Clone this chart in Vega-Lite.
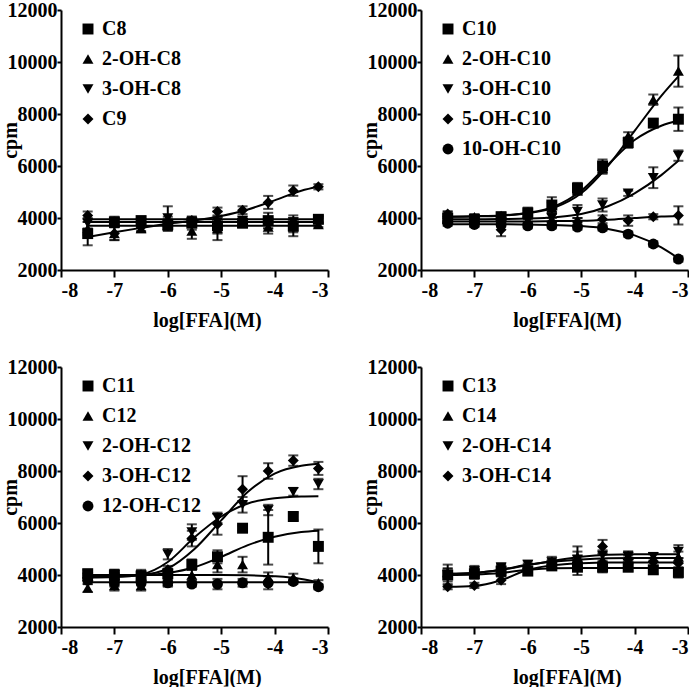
{
  "$schema": "https://vega.github.io/schema/vega-lite/v6.json",
  "padding": {"left": 0, "top": 0, "right": 0, "bottom": 0},
  "columns": 2,
  "spacing": {"row": 97, "column": 93},
  "bounds": "flush",
  "datasets": {
    "fit": [
      {"p":1,"s":"C8","x":-7.5,"y":3950},{"p":1,"s":"C8","x":-3.18,"y":3950},
      {"p":1,"s":"2-OH-C8","x":-7.5,"y":3850},{"p":1,"s":"2-OH-C8","x":-3.18,"y":3850},
      {"p":1,"s":"3-OH-C8","x":-7.5,"y":3700},{"p":1,"s":"3-OH-C8","x":-3.18,"y":3700},
      {"p":1,"s":"C9","x":-7.5,"y":3270},{"p":1,"s":"C9","x":-7,"y":3450},{"p":1,"s":"C9","x":-6.5,"y":3620},{"p":1,"s":"C9","x":-6,"y":3780},{"p":1,"s":"C9","x":-5.5,"y":3900},{"p":1,"s":"C9","x":-5,"y":4080},{"p":1,"s":"C9","x":-4.5,"y":4330},{"p":1,"s":"C9","x":-4,"y":4680},{"p":1,"s":"C9","x":-3.5,"y":5050},{"p":1,"s":"C9","x":-3.18,"y":5200},

      {"p":2,"s":"C10","x":-7.5,"y":4050},{"p":2,"s":"C10","x":-7,"y":4070},{"p":2,"s":"C10","x":-6.5,"y":4100},{"p":2,"s":"C10","x":-6,"y":4200},{"p":2,"s":"C10","x":-5.5,"y":4450},{"p":2,"s":"C10","x":-5,"y":5050},{"p":2,"s":"C10","x":-4.5,"y":6050},{"p":2,"s":"C10","x":-4,"y":7000},{"p":2,"s":"C10","x":-3.5,"y":7550},{"p":2,"s":"C10","x":-3.18,"y":7750},
      {"p":2,"s":"2-OH-C10","x":-7.5,"y":4050},{"p":2,"s":"2-OH-C10","x":-7,"y":4060},{"p":2,"s":"2-OH-C10","x":-6.5,"y":4090},{"p":2,"s":"2-OH-C10","x":-6,"y":4180},{"p":2,"s":"2-OH-C10","x":-5.5,"y":4400},{"p":2,"s":"2-OH-C10","x":-5,"y":4950},{"p":2,"s":"2-OH-C10","x":-4.5,"y":6000},{"p":2,"s":"2-OH-C10","x":-4,"y":7350},{"p":2,"s":"2-OH-C10","x":-3.5,"y":8700},{"p":2,"s":"2-OH-C10","x":-3.18,"y":9450},
      {"p":2,"s":"3-OH-C10","x":-7.5,"y":3950},{"p":2,"s":"3-OH-C10","x":-7,"y":3950},{"p":2,"s":"3-OH-C10","x":-6.5,"y":3960},{"p":2,"s":"3-OH-C10","x":-6,"y":3980},{"p":2,"s":"3-OH-C10","x":-5.5,"y":4030},{"p":2,"s":"3-OH-C10","x":-5,"y":4150},{"p":2,"s":"3-OH-C10","x":-4.5,"y":4450},{"p":2,"s":"3-OH-C10","x":-4,"y":4950},{"p":2,"s":"3-OH-C10","x":-3.5,"y":5650},{"p":2,"s":"3-OH-C10","x":-3.18,"y":6200},
      {"p":2,"s":"5-OH-C10","x":-7.5,"y":3870},{"p":2,"s":"5-OH-C10","x":-6,"y":3870},{"p":2,"s":"5-OH-C10","x":-5.5,"y":3880},{"p":2,"s":"5-OH-C10","x":-5,"y":3890},{"p":2,"s":"5-OH-C10","x":-4.5,"y":3930},{"p":2,"s":"5-OH-C10","x":-4,"y":4000},{"p":2,"s":"5-OH-C10","x":-3.5,"y":4060},{"p":2,"s":"5-OH-C10","x":-3.18,"y":4080},
      {"p":2,"s":"10-OH-C10","x":-7.5,"y":3760},{"p":2,"s":"10-OH-C10","x":-6.5,"y":3760},{"p":2,"s":"10-OH-C10","x":-6,"y":3750},{"p":2,"s":"10-OH-C10","x":-5.5,"y":3730},{"p":2,"s":"10-OH-C10","x":-5,"y":3690},{"p":2,"s":"10-OH-C10","x":-4.5,"y":3580},{"p":2,"s":"10-OH-C10","x":-4,"y":3330},{"p":2,"s":"10-OH-C10","x":-3.5,"y":2870},{"p":2,"s":"10-OH-C10","x":-3.18,"y":2450},

      {"p":3,"s":"C11","x":-7.5,"y":3950},{"p":3,"s":"C11","x":-7,"y":3960},{"p":3,"s":"C11","x":-6.5,"y":3990},{"p":3,"s":"C11","x":-6,"y":4080},{"p":3,"s":"C11","x":-5.5,"y":4300},{"p":3,"s":"C11","x":-5,"y":4700},{"p":3,"s":"C11","x":-4.5,"y":5150},{"p":3,"s":"C11","x":-4,"y":5470},{"p":3,"s":"C11","x":-3.5,"y":5650},{"p":3,"s":"C11","x":-3.18,"y":5700},
      {"p":3,"s":"C12","x":-7.5,"y":4000},{"p":3,"s":"C12","x":-5,"y":4000},{"p":3,"s":"C12","x":-4.5,"y":3990},{"p":3,"s":"C12","x":-4,"y":3950},{"p":3,"s":"C12","x":-3.5,"y":3850},{"p":3,"s":"C12","x":-3.18,"y":3720},
      {"p":3,"s":"2-OH-C12","x":-7.5,"y":3900},{"p":3,"s":"2-OH-C12","x":-7,"y":3920},{"p":3,"s":"2-OH-C12","x":-6.5,"y":4020},{"p":3,"s":"2-OH-C12","x":-6,"y":4500},{"p":3,"s":"2-OH-C12","x":-5.5,"y":5450},{"p":3,"s":"2-OH-C12","x":-5,"y":6250},{"p":3,"s":"2-OH-C12","x":-4.5,"y":6750},{"p":3,"s":"2-OH-C12","x":-4,"y":6950},{"p":3,"s":"2-OH-C12","x":-3.5,"y":7020},{"p":3,"s":"2-OH-C12","x":-3.18,"y":7030},
      {"p":3,"s":"3-OH-C12","x":-7.5,"y":3950},{"p":3,"s":"3-OH-C12","x":-7,"y":3960},{"p":3,"s":"3-OH-C12","x":-6.5,"y":4000},{"p":3,"s":"3-OH-C12","x":-6,"y":4250},{"p":3,"s":"3-OH-C12","x":-5.5,"y":5000},{"p":3,"s":"3-OH-C12","x":-5,"y":6100},{"p":3,"s":"3-OH-C12","x":-4.5,"y":7200},{"p":3,"s":"3-OH-C12","x":-4,"y":7900},{"p":3,"s":"3-OH-C12","x":-3.5,"y":8200},{"p":3,"s":"3-OH-C12","x":-3.18,"y":8280},
      {"p":3,"s":"12-OH-C12","x":-7.5,"y":3720},{"p":3,"s":"12-OH-C12","x":-3.18,"y":3720},

      {"p":4,"s":"C13","x":-7.5,"y":4000},{"p":4,"s":"C13","x":-7,"y":4020},{"p":4,"s":"C13","x":-6.5,"y":4080},{"p":4,"s":"C13","x":-6,"y":4200},{"p":4,"s":"C13","x":-5.5,"y":4260},{"p":4,"s":"C13","x":-5,"y":4270},{"p":4,"s":"C13","x":-3.18,"y":4270},
      {"p":4,"s":"C14","x":-7.5,"y":4050},{"p":4,"s":"C14","x":-7,"y":4080},{"p":4,"s":"C14","x":-6.5,"y":4200},{"p":4,"s":"C14","x":-6,"y":4400},{"p":4,"s":"C14","x":-5.5,"y":4520},{"p":4,"s":"C14","x":-5,"y":4600},{"p":4,"s":"C14","x":-4.5,"y":4640},{"p":4,"s":"C14","x":-4,"y":4650},{"p":4,"s":"C14","x":-3.18,"y":4650},
      {"p":4,"s":"2-OH-C14","x":-7.5,"y":4050},{"p":4,"s":"2-OH-C14","x":-7,"y":4080},{"p":4,"s":"2-OH-C14","x":-6.5,"y":4200},{"p":4,"s":"2-OH-C14","x":-6,"y":4380},{"p":4,"s":"2-OH-C14","x":-5.5,"y":4550},{"p":4,"s":"2-OH-C14","x":-5,"y":4700},{"p":4,"s":"2-OH-C14","x":-4.5,"y":4780},{"p":4,"s":"2-OH-C14","x":-4,"y":4800},{"p":4,"s":"2-OH-C14","x":-3.18,"y":4800},
      {"p":4,"s":"3-OH-C14","x":-7.5,"y":3550},{"p":4,"s":"3-OH-C14","x":-7,"y":3580},{"p":4,"s":"3-OH-C14","x":-6.5,"y":3800},{"p":4,"s":"3-OH-C14","x":-6,"y":4200},{"p":4,"s":"3-OH-C14","x":-5.5,"y":4380},{"p":4,"s":"3-OH-C14","x":-5,"y":4450},{"p":4,"s":"3-OH-C14","x":-4.5,"y":4480},{"p":4,"s":"3-OH-C14","x":-3.18,"y":4480}
    ],
    "pts": [
      {"p":1,"s":"C8","x":-7.5,"y":3400,"e":450},{"p":1,"s":"C8","x":-7,"y":3850,"e":200},{"p":1,"s":"C8","x":-6.5,"y":3900,"e":150},{"p":1,"s":"C8","x":-6,"y":3750,"e":200},{"p":1,"s":"C8","x":-5.55,"y":3800,"e":250},{"p":1,"s":"C8","x":-5.07,"y":3700,"e":550},{"p":1,"s":"C8","x":-4.6,"y":3800,"e":150},{"p":1,"s":"C8","x":-4.12,"y":3900,"e":300},{"p":1,"s":"C8","x":-3.65,"y":3700,"e":400},{"p":1,"s":"C8","x":-3.18,"y":3950,"e":150},
      {"p":1,"s":"2-OH-C8","x":-7.5,"y":3600,"e":250},{"p":1,"s":"2-OH-C8","x":-7,"y":3400,"e":250},{"p":1,"s":"2-OH-C8","x":-6.5,"y":3600,"e":150},{"p":1,"s":"2-OH-C8","x":-6,"y":3700,"e":200},{"p":1,"s":"2-OH-C8","x":-5.55,"y":3500,"e":300},{"p":1,"s":"2-OH-C8","x":-5.07,"y":3600,"e":200},{"p":1,"s":"2-OH-C8","x":-4.6,"y":3800,"e":100},{"p":1,"s":"2-OH-C8","x":-4.12,"y":3650,"e":250},{"p":1,"s":"2-OH-C8","x":-3.65,"y":3650,"e":200},{"p":1,"s":"2-OH-C8","x":-3.18,"y":3750,"e":100},
      {"p":1,"s":"3-OH-C8","x":-7.5,"y":3800,"e":200},{"p":1,"s":"3-OH-C8","x":-7,"y":3800,"e":150},{"p":1,"s":"3-OH-C8","x":-6.5,"y":3800,"e":150},{"p":1,"s":"3-OH-C8","x":-6,"y":4000,"e":450},{"p":1,"s":"3-OH-C8","x":-5.55,"y":3850,"e":150},{"p":1,"s":"3-OH-C8","x":-5.07,"y":3850,"e":200},{"p":1,"s":"3-OH-C8","x":-4.6,"y":3900,"e":150},{"p":1,"s":"3-OH-C8","x":-4.12,"y":3800,"e":200},{"p":1,"s":"3-OH-C8","x":-3.65,"y":3850,"e":150},{"p":1,"s":"3-OH-C8","x":-3.18,"y":3900,"e":100},
      {"p":1,"s":"C9","x":-7.5,"y":4100,"e":150},{"p":1,"s":"C9","x":-7,"y":3400,"e":250},{"p":1,"s":"C9","x":-6.5,"y":3650,"e":150},{"p":1,"s":"C9","x":-6,"y":3850,"e":200},{"p":1,"s":"C9","x":-5.55,"y":3900,"e":150},{"p":1,"s":"C9","x":-5.07,"y":4250,"e":150},{"p":1,"s":"C9","x":-4.6,"y":4300,"e":150},{"p":1,"s":"C9","x":-4.12,"y":4600,"e":250},{"p":1,"s":"C9","x":-3.65,"y":5050,"e":200},{"p":1,"s":"C9","x":-3.18,"y":5200,"e":100},

      {"p":2,"s":"C10","x":-7.5,"y":4000,"e":100},{"p":2,"s":"C10","x":-7,"y":3950,"e":150},{"p":2,"s":"C10","x":-6.5,"y":4050,"e":150},{"p":2,"s":"C10","x":-6,"y":4200,"e":200},{"p":2,"s":"C10","x":-5.55,"y":4500,"e":300},{"p":2,"s":"C10","x":-5.07,"y":5150,"e":200},{"p":2,"s":"C10","x":-4.6,"y":6000,"e":250},{"p":2,"s":"C10","x":-4.12,"y":6900,"e":200},{"p":2,"s":"C10","x":-3.65,"y":7650,"e":150},{"p":2,"s":"C10","x":-3.18,"y":7800,"e":450},
      {"p":2,"s":"2-OH-C10","x":-7.5,"y":4150,"e":100},{"p":2,"s":"2-OH-C10","x":-7,"y":4050,"e":100},{"p":2,"s":"2-OH-C10","x":-6.5,"y":4100,"e":100},{"p":2,"s":"2-OH-C10","x":-6,"y":4150,"e":150},{"p":2,"s":"2-OH-C10","x":-5.55,"y":4400,"e":200},{"p":2,"s":"2-OH-C10","x":-5.07,"y":5050,"e":150},{"p":2,"s":"2-OH-C10","x":-4.6,"y":5900,"e":200},{"p":2,"s":"2-OH-C10","x":-4.12,"y":7150,"e":150},{"p":2,"s":"2-OH-C10","x":-3.65,"y":8550,"e":200},{"p":2,"s":"2-OH-C10","x":-3.18,"y":9650,"e":600},
      {"p":2,"s":"3-OH-C10","x":-7.5,"y":3900,"e":100},{"p":2,"s":"3-OH-C10","x":-7,"y":3900,"e":100},{"p":2,"s":"3-OH-C10","x":-6.5,"y":3850,"e":150},{"p":2,"s":"3-OH-C10","x":-6,"y":3900,"e":100},{"p":2,"s":"3-OH-C10","x":-5.55,"y":4000,"e":150},{"p":2,"s":"3-OH-C10","x":-5.07,"y":4250,"e":250},{"p":2,"s":"3-OH-C10","x":-4.6,"y":4500,"e":250},{"p":2,"s":"3-OH-C10","x":-4.12,"y":4950,"e":100},{"p":2,"s":"3-OH-C10","x":-3.65,"y":5550,"e":400},{"p":2,"s":"3-OH-C10","x":-3.18,"y":6400,"e":200},
      {"p":2,"s":"5-OH-C10","x":-7.5,"y":4150,"e":100},{"p":2,"s":"5-OH-C10","x":-7,"y":3850,"e":150},{"p":2,"s":"5-OH-C10","x":-6.5,"y":3550,"e":250},{"p":2,"s":"5-OH-C10","x":-6,"y":3800,"e":150},{"p":2,"s":"5-OH-C10","x":-5.55,"y":3850,"e":150},{"p":2,"s":"5-OH-C10","x":-5.07,"y":3850,"e":150},{"p":2,"s":"5-OH-C10","x":-4.6,"y":3950,"e":150},{"p":2,"s":"5-OH-C10","x":-4.12,"y":3900,"e":200},{"p":2,"s":"5-OH-C10","x":-3.65,"y":4050,"e":100},{"p":2,"s":"5-OH-C10","x":-3.18,"y":4100,"e":350},
      {"p":2,"s":"10-OH-C10","x":-7.5,"y":3800,"e":100},{"p":2,"s":"10-OH-C10","x":-7,"y":3750,"e":100},{"p":2,"s":"10-OH-C10","x":-6.5,"y":3750,"e":100},{"p":2,"s":"10-OH-C10","x":-6,"y":3700,"e":100},{"p":2,"s":"10-OH-C10","x":-5.55,"y":3700,"e":100},{"p":2,"s":"10-OH-C10","x":-5.07,"y":3650,"e":100},{"p":2,"s":"10-OH-C10","x":-4.6,"y":3620,"e":100},{"p":2,"s":"10-OH-C10","x":-4.12,"y":3380,"e":100},{"p":2,"s":"10-OH-C10","x":-3.65,"y":3000,"e":100},{"p":2,"s":"10-OH-C10","x":-3.18,"y":2420,"e":100},

      {"p":3,"s":"C11","x":-7.5,"y":4050,"e":150},{"p":3,"s":"C11","x":-7,"y":4000,"e":200},{"p":3,"s":"C11","x":-6.5,"y":3950,"e":200},{"p":3,"s":"C11","x":-6,"y":4050,"e":200},{"p":3,"s":"C11","x":-5.55,"y":4400,"e":200},{"p":3,"s":"C11","x":-5.07,"y":4700,"e":250},{"p":3,"s":"C11","x":-4.6,"y":5800,"e":100},{"p":3,"s":"C11","x":-4.12,"y":5450,"e":1050},{"p":3,"s":"C11","x":-3.65,"y":6250,"e":150},{"p":3,"s":"C11","x":-3.18,"y":5100,"e":650},
      {"p":3,"s":"C12","x":-7.5,"y":3500,"e":150},{"p":3,"s":"C12","x":-7,"y":3600,"e":200},{"p":3,"s":"C12","x":-6.5,"y":3600,"e":200},{"p":3,"s":"C12","x":-6,"y":3750,"e":200},{"p":3,"s":"C12","x":-5.55,"y":4000,"e":200},{"p":3,"s":"C12","x":-5.07,"y":4400,"e":300},{"p":3,"s":"C12","x":-4.6,"y":4400,"e":300},{"p":3,"s":"C12","x":-4.12,"y":3900,"e":200},{"p":3,"s":"C12","x":-3.65,"y":3900,"e":150},{"p":3,"s":"C12","x":-3.18,"y":3700,"e":100},
      {"p":3,"s":"2-OH-C12","x":-7.5,"y":3900,"e":150},{"p":3,"s":"2-OH-C12","x":-7,"y":3900,"e":300},{"p":3,"s":"2-OH-C12","x":-6.5,"y":4000,"e":200},{"p":3,"s":"2-OH-C12","x":-6,"y":4800,"e":200},{"p":3,"s":"2-OH-C12","x":-5.55,"y":5650,"e":300},{"p":3,"s":"2-OH-C12","x":-5.07,"y":6200,"e":200},{"p":3,"s":"2-OH-C12","x":-4.6,"y":6700,"e":300},{"p":3,"s":"2-OH-C12","x":-4.12,"y":6500,"e":200},{"p":3,"s":"2-OH-C12","x":-3.65,"y":7200,"e":150},{"p":3,"s":"2-OH-C12","x":-3.18,"y":7500,"e":200},
      {"p":3,"s":"3-OH-C12","x":-7.5,"y":3900,"e":100},{"p":3,"s":"3-OH-C12","x":-7,"y":3800,"e":200},{"p":3,"s":"3-OH-C12","x":-6.5,"y":3800,"e":150},{"p":3,"s":"3-OH-C12","x":-6,"y":4200,"e":150},{"p":3,"s":"3-OH-C12","x":-5.55,"y":5400,"e":300},{"p":3,"s":"3-OH-C12","x":-5.07,"y":5950,"e":400},{"p":3,"s":"3-OH-C12","x":-4.6,"y":7300,"e":500},{"p":3,"s":"3-OH-C12","x":-4.12,"y":8000,"e":300},{"p":3,"s":"3-OH-C12","x":-3.65,"y":8400,"e":200},{"p":3,"s":"3-OH-C12","x":-3.18,"y":8100,"e":250},
      {"p":3,"s":"12-OH-C12","x":-7.5,"y":3800,"e":150},{"p":3,"s":"12-OH-C12","x":-7,"y":3700,"e":150},{"p":3,"s":"12-OH-C12","x":-6.5,"y":3700,"e":100},{"p":3,"s":"12-OH-C12","x":-6,"y":3700,"e":100},{"p":3,"s":"12-OH-C12","x":-5.55,"y":3650,"e":100},{"p":3,"s":"12-OH-C12","x":-5.07,"y":3650,"e":200},{"p":3,"s":"12-OH-C12","x":-4.6,"y":3700,"e":150},{"p":3,"s":"12-OH-C12","x":-4.12,"y":3700,"e":250},{"p":3,"s":"12-OH-C12","x":-3.65,"y":3750,"e":100},{"p":3,"s":"12-OH-C12","x":-3.18,"y":3550,"e":100},

      {"p":4,"s":"C13","x":-7.5,"y":4000,"e":250},{"p":4,"s":"C13","x":-7,"y":4050,"e":200},{"p":4,"s":"C13","x":-6.5,"y":4150,"e":200},{"p":4,"s":"C13","x":-6,"y":4150,"e":150},{"p":4,"s":"C13","x":-5.55,"y":4350,"e":150},{"p":4,"s":"C13","x":-5.07,"y":4300,"e":300},{"p":4,"s":"C13","x":-4.6,"y":4300,"e":200},{"p":4,"s":"C13","x":-4.12,"y":4300,"e":150},{"p":4,"s":"C13","x":-3.65,"y":4200,"e":150},{"p":4,"s":"C13","x":-3.18,"y":4100,"e":200},
      {"p":4,"s":"C14","x":-7.5,"y":4100,"e":150},{"p":4,"s":"C14","x":-7,"y":4150,"e":150},{"p":4,"s":"C14","x":-6.5,"y":4250,"e":150},{"p":4,"s":"C14","x":-6,"y":4350,"e":100},{"p":4,"s":"C14","x":-5.55,"y":4450,"e":150},{"p":4,"s":"C14","x":-5.07,"y":4700,"e":400},{"p":4,"s":"C14","x":-4.6,"y":4600,"e":200},{"p":4,"s":"C14","x":-4.12,"y":4750,"e":150},{"p":4,"s":"C14","x":-3.65,"y":4650,"e":150},{"p":4,"s":"C14","x":-3.18,"y":4700,"e":200},
      {"p":4,"s":"2-OH-C14","x":-7.5,"y":4000,"e":400},{"p":4,"s":"2-OH-C14","x":-7,"y":4150,"e":200},{"p":4,"s":"2-OH-C14","x":-6.5,"y":4300,"e":150},{"p":4,"s":"2-OH-C14","x":-6,"y":4400,"e":150},{"p":4,"s":"2-OH-C14","x":-5.55,"y":4500,"e":200},{"p":4,"s":"2-OH-C14","x":-5.07,"y":4600,"e":300},{"p":4,"s":"2-OH-C14","x":-4.6,"y":4750,"e":200},{"p":4,"s":"2-OH-C14","x":-4.12,"y":4700,"e":200},{"p":4,"s":"2-OH-C14","x":-3.65,"y":4700,"e":150},{"p":4,"s":"2-OH-C14","x":-3.18,"y":4900,"e":250},
      {"p":4,"s":"3-OH-C14","x":-7.5,"y":3550,"e":100},{"p":4,"s":"3-OH-C14","x":-7,"y":3600,"e":100},{"p":4,"s":"3-OH-C14","x":-6.5,"y":3800,"e":150},{"p":4,"s":"3-OH-C14","x":-6,"y":4250,"e":150},{"p":4,"s":"3-OH-C14","x":-5.55,"y":4400,"e":150},{"p":4,"s":"3-OH-C14","x":-5.07,"y":4500,"e":250},{"p":4,"s":"3-OH-C14","x":-4.6,"y":5100,"e":250},{"p":4,"s":"3-OH-C14","x":-4.12,"y":4600,"e":150},{"p":4,"s":"3-OH-C14","x":-3.65,"y":4500,"e":150},{"p":4,"s":"3-OH-C14","x":-3.18,"y":4450,"e":200}
    ]
  },
  "resolve": {"scale": {"shape": "independent"}, "legend": {"shape": "independent"}},
  "concat": [
    {
      "width": 267, "height": 260,
      "layer": [
        {"data": {"name": "fit"}, "transform": [{"filter": "datum.p == 1"}],
         "mark": {"type": "line", "color": "black", "strokeWidth": 2, "interpolate": "monotone"},
         "encoding": {"x": {"field": "x", "type": "quantitative", "title": "log[FFA](M)", "scale": {"domain": [-8, -3], "nice": false, "zero": false}},
                      "y": {"field": "y", "type": "quantitative", "title": "cpm", "scale": {"domain": [2000, 12000], "nice": false, "zero": false}},
                      "detail": {"field": "s"}}},
        {"data": {"name": "pts"}, "transform": [{"filter": "datum.p == 1"}],
         "mark": {"type": "errorbar", "ticks": true, "color": "black", "thickness": 2, "size": 10},
         "encoding": {"x": {"field": "x", "type": "quantitative", "title": "log[FFA](M)"}, "y": {"field": "y", "type": "quantitative", "title": "cpm"}, "yError": {"field": "e"}}},
        {"data": {"name": "pts"}, "transform": [{"filter": "datum.p == 1"}],
         "mark": {"type": "point", "filled": true, "color": "black", "opacity": 1, "size": 120},
         "encoding": {"x": {"field": "x", "type": "quantitative", "title": "log[FFA](M)"}, "y": {"field": "y", "type": "quantitative", "title": "cpm"},
                      "shape": {"field": "s", "type": "nominal", "scale": {"domain": ["C8", "2-OH-C8", "3-OH-C8", "C9"], "range": ["square", "triangle-up", "triangle-down", "diamond"]}}}}
      ]
    },
    {
      "width": 267, "height": 260,
      "layer": [
        {"data": {"name": "fit"}, "transform": [{"filter": "datum.p == 2"}],
         "mark": {"type": "line", "color": "black", "strokeWidth": 2, "interpolate": "monotone"},
         "encoding": {"x": {"field": "x", "type": "quantitative", "title": "log[FFA](M)", "scale": {"domain": [-8, -3], "nice": false, "zero": false}},
                      "y": {"field": "y", "type": "quantitative", "title": "cpm", "scale": {"domain": [2000, 12000], "nice": false, "zero": false}},
                      "detail": {"field": "s"}}},
        {"data": {"name": "pts"}, "transform": [{"filter": "datum.p == 2"}],
         "mark": {"type": "errorbar", "ticks": true, "color": "black", "thickness": 2, "size": 10},
         "encoding": {"x": {"field": "x", "type": "quantitative", "title": "log[FFA](M)"}, "y": {"field": "y", "type": "quantitative", "title": "cpm"}, "yError": {"field": "e"}}},
        {"data": {"name": "pts"}, "transform": [{"filter": "datum.p == 2"}],
         "mark": {"type": "point", "filled": true, "color": "black", "opacity": 1, "size": 120},
         "encoding": {"x": {"field": "x", "type": "quantitative", "title": "log[FFA](M)"}, "y": {"field": "y", "type": "quantitative", "title": "cpm"},
                      "shape": {"field": "s", "type": "nominal", "scale": {"domain": ["C10", "2-OH-C10", "3-OH-C10", "5-OH-C10", "10-OH-C10"], "range": ["square", "triangle-up", "triangle-down", "diamond", "circle"]}}}}
      ]
    },
    {
      "width": 267, "height": 260,
      "layer": [
        {"data": {"name": "fit"}, "transform": [{"filter": "datum.p == 3"}],
         "mark": {"type": "line", "color": "black", "strokeWidth": 2, "interpolate": "monotone"},
         "encoding": {"x": {"field": "x", "type": "quantitative", "title": "log[FFA](M)", "scale": {"domain": [-8, -3], "nice": false, "zero": false}},
                      "y": {"field": "y", "type": "quantitative", "title": "cpm", "scale": {"domain": [2000, 12000], "nice": false, "zero": false}},
                      "detail": {"field": "s"}}},
        {"data": {"name": "pts"}, "transform": [{"filter": "datum.p == 3"}],
         "mark": {"type": "errorbar", "ticks": true, "color": "black", "thickness": 2, "size": 10},
         "encoding": {"x": {"field": "x", "type": "quantitative", "title": "log[FFA](M)"}, "y": {"field": "y", "type": "quantitative", "title": "cpm"}, "yError": {"field": "e"}}},
        {"data": {"name": "pts"}, "transform": [{"filter": "datum.p == 3"}],
         "mark": {"type": "point", "filled": true, "color": "black", "opacity": 1, "size": 120},
         "encoding": {"x": {"field": "x", "type": "quantitative", "title": "log[FFA](M)"}, "y": {"field": "y", "type": "quantitative", "title": "cpm"},
                      "shape": {"field": "s", "type": "nominal", "scale": {"domain": ["C11", "C12", "2-OH-C12", "3-OH-C12", "12-OH-C12"], "range": ["square", "triangle-up", "triangle-down", "diamond", "circle"]}}}}
      ]
    },
    {
      "width": 267, "height": 260,
      "layer": [
        {"data": {"name": "fit"}, "transform": [{"filter": "datum.p == 4"}],
         "mark": {"type": "line", "color": "black", "strokeWidth": 2, "interpolate": "monotone"},
         "encoding": {"x": {"field": "x", "type": "quantitative", "title": "log[FFA](M)", "scale": {"domain": [-8, -3], "nice": false, "zero": false}},
                      "y": {"field": "y", "type": "quantitative", "title": "cpm", "scale": {"domain": [2000, 12000], "nice": false, "zero": false}},
                      "detail": {"field": "s"}}},
        {"data": {"name": "pts"}, "transform": [{"filter": "datum.p == 4"}],
         "mark": {"type": "errorbar", "ticks": true, "color": "black", "thickness": 2, "size": 10},
         "encoding": {"x": {"field": "x", "type": "quantitative", "title": "log[FFA](M)"}, "y": {"field": "y", "type": "quantitative", "title": "cpm"}, "yError": {"field": "e"}}},
        {"data": {"name": "pts"}, "transform": [{"filter": "datum.p == 4"}],
         "mark": {"type": "point", "filled": true, "color": "black", "opacity": 1, "size": 120},
         "encoding": {"x": {"field": "x", "type": "quantitative", "title": "log[FFA](M)"}, "y": {"field": "y", "type": "quantitative", "title": "cpm"},
                      "shape": {"field": "s", "type": "nominal", "scale": {"domain": ["C13", "C14", "2-OH-C14", "3-OH-C14"], "range": ["square", "triangle-up", "triangle-down", "diamond"]}}}}
      ]
    }
  ],
  "config": {
    "view": {"stroke": null},
    "font": "Liberation Serif",
    "axis": {
      "grid": false, "domainColor": "black", "domainWidth": 2, "tickColor": "black", "tickWidth": 2,
      "labelFont": "Liberation Serif", "labelFontSize": 20, "labelFontWeight": "bold", "labelColor": "black",
      "titleFont": "Liberation Serif", "titleFontSize": 20, "titleFontWeight": "bold", "titleColor": "black",
      "labelExpr": "'' + datum.value"
    },
    "axisX": {"values": [-8, -7, -6, -5, -4, -3], "tickSize": 7, "labelPadding": 3, "titlePadding": 10, "titleX": 146},
    "axisY": {"values": [2000, 4000, 6000, 8000, 10000, 12000], "tickSize": 4, "labelPadding": 0, "titlePadding": -13},
    "legend": {
      "orient": "none", "legendX": 17, "legendY": 9, "title": null, "padding": 0,
      "symbolSize": 120, "symbolFillColor": "black", "symbolStrokeColor": "black", "symbolStrokeWidth": 0,
      "labelFont": "Liberation Serif", "labelFontSize": 20, "labelFontWeight": "bold", "labelColor": "black",
      "labelOffset": 4, "rowPadding": 10
    }
  }
}
